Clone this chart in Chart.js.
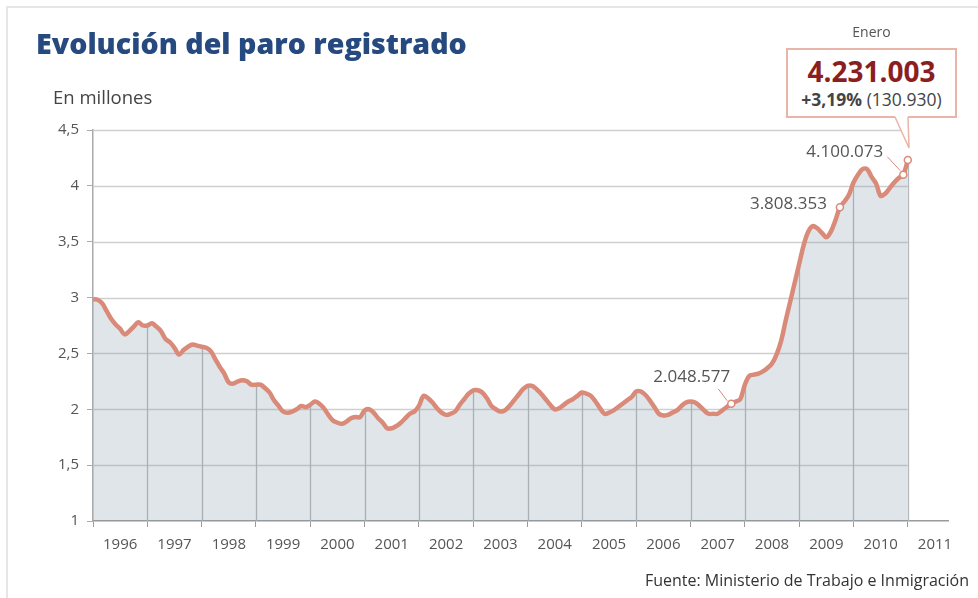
<!DOCTYPE html>
<html lang="es">
<head>
<meta charset="utf-8">
<title>Evolución del paro registrado</title>
<script src="https://cdn.jsdelivr.net/npm/chart.js@4.4.1/dist/chart.umd.min.js"></script>
<style>
  html, body { margin: 0; padding: 0; background: #fff; }
  body { width: 978px; height: 598px; position: relative; overflow: hidden; font-family: 'Open Sans', sans-serif; }
  #frame { position: absolute; left: 6px; top: 6px; width: 990px; height: 610px; border-left: 2px solid #e6e6e6; border-top: 2px solid #e6e6e6; }
  #paroChart { position: absolute; left: 0; top: 0; }
  .title { position: absolute; left: 36px; top: 26px; font: 800 28.6px 'Open Sans', sans-serif; line-height: 1.2; color: #264a80; white-space: nowrap; }
  .units { position: absolute; left: 53px; top: 88px; font-size: 18.5px; line-height: 1; color: #444; }
  .source { position: absolute; right: 9px; top: 572px; font-size: 16px; line-height: 1; color: #333; white-space: nowrap; }
  .month { position: absolute; left: 786px; width: 171px; top: 25px; text-align: center; font-size: 14px; line-height: 1; color: #555; }
  .callout { position: absolute; left: 786px; top: 48px; width: 171px; height: 70px; box-sizing: border-box; border: 2px solid #e8b5a8; background: #fff; text-align: center; }
  .callout .big { margin-top: 5px; font-size: 28px; font-weight: 700; line-height: 32px; color: #8b1e1e; }
  .callout .small { font-size: 17.5px; line-height: 24px; color: #444; }
  .callout .small b { font-weight: 700; }
  #pointer { position: absolute; left: 0; top: 0; }
</style>
</head>
<body>
<div id="frame"></div>
<canvas id="paroChart" width="978" height="598"></canvas>
<div class="title">Evolución del paro registrado</div>
<div class="units">En millones</div>
<div class="month">Enero</div>
<div class="callout">
  <div class="big">4.231.003</div>
  <div class="small"><b>+3,19%</b> (130.930)</div>
</div>
<svg id="pointer" width="978" height="598">
  <polygon points="895,116 909,148 908,116" fill="#fff" stroke="none"></polygon>
  <polyline points="895,117 909,148 908,117" fill="none" stroke="#e8b5a8" stroke-width="1.5"></polyline>
</svg>
<div class="source">Fuente: Ministerio de Trabajo e Inmigración</div>

<script>
// paro registrado, millones de personas, mensual desde enero de 1996
const startYear = 1996
const paro = [
  2.985, 2.98, 2.95, 2.88, 2.81, 2.76, 2.72, 2.67, 2.70, 2.74, 2.78, 2.75,
  2.75, 2.77, 2.74, 2.70, 2.63, 2.60, 2.55, 2.49, 2.53, 2.56, 2.58, 2.57,
  2.56, 2.55, 2.52, 2.45, 2.38, 2.32, 2.24, 2.23, 2.25, 2.26, 2.25, 2.22,
  2.22, 2.22, 2.19, 2.15, 2.08, 2.03, 1.98, 1.97, 1.98, 2.00, 2.03, 2.02,
  2.04, 2.07, 2.05, 2.01, 1.95, 1.90, 1.88, 1.87, 1.89, 1.92, 1.93, 1.93,
  1.99, 2.00, 1.97, 1.92, 1.88, 1.83, 1.83, 1.85, 1.88, 1.92, 1.96, 1.98,
  2.03, 2.12, 2.10, 2.06, 2.01, 1.97, 1.95, 1.96, 1.98, 2.04, 2.09, 2.14,
  2.17, 2.17, 2.15, 2.10, 2.03, 2.00, 1.98, 1.99, 2.03, 2.08, 2.13, 2.18,
  2.21, 2.21, 2.18, 2.14, 2.09, 2.04, 2.00, 2.01, 2.04, 2.07, 2.09, 2.12,
  2.15, 2.14, 2.12, 2.07, 2.01, 1.96, 1.97, 1.99, 2.02, 2.05, 2.08, 2.11,
  2.16, 2.16, 2.13, 2.08, 2.02, 1.96, 1.945, 1.95, 1.97, 1.99, 2.03, 2.06,
  2.07, 2.06, 2.03, 1.99, 1.96, 1.96, 1.96, 1.99, 2.02, 2.048577, 2.07, 2.09,
  2.22, 2.30, 2.31, 2.32, 2.34, 2.37, 2.41, 2.49, 2.61, 2.79, 2.96, 3.13,
  3.30, 3.47, 3.59, 3.64, 3.62, 3.58, 3.54, 3.59, 3.69, 3.808353, 3.86, 3.92,
  4.03, 4.10, 4.15, 4.15, 4.08, 4.02, 3.91, 3.93, 3.98, 4.03, 4.07, 4.100073,
  4.231003
]

const years = [1996, 1997, 1998, 1999, 2000, 2001, 2002, 2003, 2004, 2005, 2006, 2007, 2008, 2009, 2010, 2011]
const yTicks = [1, 1.5, 2, 2.5, 3, 3.5, 4, 4.5]

// puntos destacados (indice del mes) y sus rotulos
const marked = [141, 165, 179, 180]
const notes = [
  { index: 141, text: '2.048.577' },
  { index: 165, text: '3.808.353' },
  { index: 179, text: '4.100.073' },
]
// colocacion de cada rotulo respecto a su punto
const noteStyle = {
  141: { dx: -1, dy: -27, leader: [-13, -15, -4, -3] },
  165: { dx: -13, dy: -3, leader: null },
  179: { dx: -20, dy: -23, leader: [-16, -18, -3, -4] },
}

const lineColor = '#d98a78'
const points = paro.map((v, i) => ({ x: startYear + i / 12, y: v }))
const lastX = points[points.length - 1].x

const gridPlugin = {
  id: 'paroGrid',
  beforeDatasetsDraw(chart) {
    const { ctx, chartArea, scales } = chart
    const x = scales.x
    const y = scales.y
    const xEnd = x.getPixelForValue(lastX)
    ctx.save()
    ctx.strokeStyle = '#cfcfcf'
    ctx.lineWidth = 1.5
    yTicks.slice(1).forEach((v) => {
      const py = Math.round(y.getPixelForValue(v)) + 0.5
      ctx.beginPath()
      ctx.moveTo(chartArea.left, py)
      ctx.lineTo(xEnd, py)
      ctx.stroke()
    })
    // lineas de cada año, solo bajo la curva
    ctx.strokeStyle = '#b4b9bc'
    ctx.lineWidth = 1.3
    years.slice(1).forEach((yr) => {
      const idx = (yr - startYear) * 12
      const px = Math.round(x.getPixelForValue(yr)) + 0.5
      ctx.beginPath()
      ctx.moveTo(px, chartArea.bottom)
      ctx.lineTo(px, y.getPixelForValue(paro[idx]))
      ctx.stroke()
    })
    ctx.restore()
  },
  afterDatasetsDraw(chart) {
    const { ctx, scales } = chart
    const x = scales.x
    const y = scales.y
    ctx.save()
    ctx.font = '17px "Open Sans", sans-serif'
    ctx.fillStyle = '#555'
    ctx.textAlign = 'right'
    ctx.textBaseline = 'middle'
    notes.forEach((n) => {
      const st = noteStyle[n.index]
      const px = x.getPixelForValue(points[n.index].x)
      const py = y.getPixelForValue(points[n.index].y)
      ctx.fillText(n.text, px + st.dx, py + st.dy)
      if (st.leader) {
        ctx.strokeStyle = lineColor
        ctx.lineWidth = 1
        ctx.beginPath()
        ctx.moveTo(px + st.leader[0], py + st.leader[1])
        ctx.lineTo(px + st.leader[2], py + st.leader[3])
        ctx.stroke()
      }
    })
    ctx.restore()
  },
}

const canvas = document.getElementById('paroChart')
const ctx = canvas.getContext('2d')

new Chart(ctx, {
  type: 'line',
  data: {
    datasets: [
      {
        data: points,
        borderColor: lineColor,
        borderWidth: 4.5,
        backgroundColor: 'rgba(127, 151, 167, 0.25)',
        fill: 'start',
        tension: 0.35,
        pointRadius: (c) => (marked.includes(c.dataIndex) ? 3.5 : 0),
        pointBackgroundColor: '#fff',
        pointBorderColor: lineColor,
        pointBorderWidth: 1.5,
      },
    ],
  },
  options: {
    responsive: false,
    animation: false,
    layout: { padding: { top: 130, right: 30, bottom: 0, left: 0 } },
    plugins: { legend: { display: false }, tooltip: { enabled: false } },
    scales: {
      x: {
        type: 'linear',
        min: startYear,
        max: 2011.74,
        afterFit: (s) => { s.height = 77 },
        afterBuildTicks: (s) => {
          const t = []
          years.forEach((yr) => { t.push({ value: yr }); t.push({ value: yr + 0.5 }) })
          s.ticks = t
        },
        border: { display: true, color: '#9a9a9a', width: 1.5 },
        grid: {
          drawOnChartArea: false,
          drawTicks: true,
          tickLength: 6,
          color: (c) => (Number.isInteger(c.tick.value) ? '#9a9a9a' : 'rgba(0,0,0,0)'),
        },
        ticks: {
          autoSkip: false,
          maxRotation: 0,
          padding: 9,
          color: '#555',
          font: { family: 'Open Sans', size: 15 },
          callback: (v) => (Number.isInteger(v) ? '' : String(Math.floor(v))),
        },
      },
      y: {
        min: 1,
        max: 4.5,
        afterFit: (s) => { s.width = 93 },
        afterBuildTicks: (s) => { s.ticks = yTicks.map((v) => ({ value: v })) },
        border: { display: true, color: '#aaaaaa', width: 1.5 },
        grid: { drawOnChartArea: false, drawTicks: true, tickLength: 6, color: '#aaaaaa' },
        ticks: {
          padding: 8,
          color: '#555',
          font: { family: 'Open Sans', size: 15 },
          callback: (v) => String(v).replace('.', ','),
        },
      },
    },
  },
  plugins: [gridPlugin],
})
</script>
</body>
</html>
